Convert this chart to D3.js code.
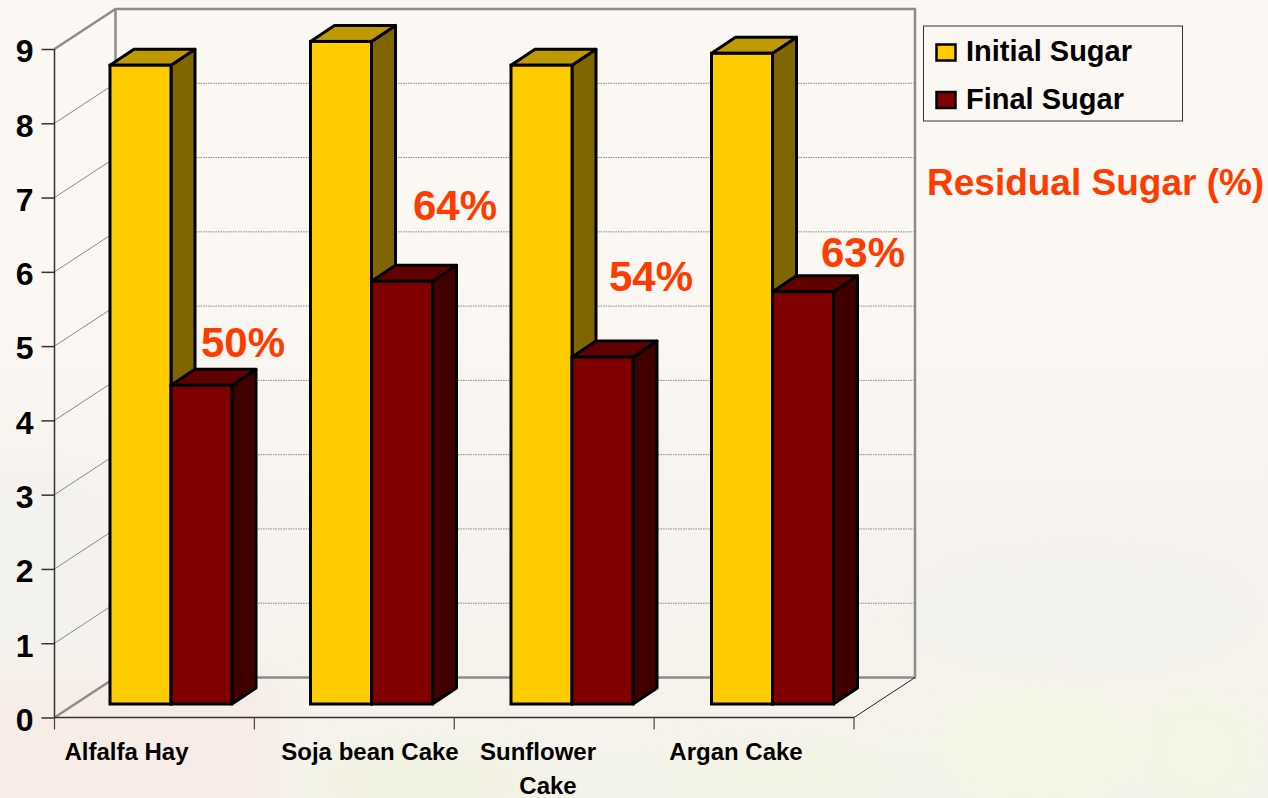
<!DOCTYPE html>
<html>
<head>
<meta charset="utf-8">
<script src="https://cdn.jsdelivr.net/npm/d3@7"></script>
<style>
html, body { margin: 0; padding: 0; background: #fbf8f4; }
svg { display: block; }
text { font-family: "Liberation Sans", Arial, sans-serif; font-weight: bold; }
</style>
</head>
<body>
<div id="chart"></div>
<script>
var categories = ["Alfalfa Hay", "Soja bean Cake", "Sunflower Cake", "Argan Cake"];
var initialSugar = [8.6, 8.92, 8.6, 8.76];
var finalSugar = [4.29, 5.69, 4.67, 5.55];
var residualLabels = ["50%", "64%", "54%", "63%"];
var yTicks = [0, 1, 2, 3, 4, 5, 6, 7, 8, 9];
var seriesNames = ["Initial Sugar", "Final Sugar"];

var W = 1268, H = 798;
var wallDx = 61, wallDy = -40;     // oblique offset of the back wall
var barDx = 24, barDy = -16;       // depth of each bar
var planeDx = 20, planeDy = -13.5; // bars stand a bit behind the axis

var x = d3.scaleBand().domain(categories).range([54.5, 856.5]);
var xTick = d3.scaleLinear().domain([0, 4]).range([54.5, 854]);
var y = d3.scaleLinear().domain([0, 9]).range([717.5, 49]);
var barW = 61;
var barX0 = 35.5; // gap from tick to first bar in a group

var svg = d3.select("#chart").append("svg").attr("width", W).attr("height", H);

// washed out photo behind the slide
var defs = svg.append("defs");
var fade = defs.append("linearGradient").attr("id", "fade").attr("x1", 0).attr("x2", 0).attr("y1", 0).attr("y2", 1);
fade.append("stop").attr("offset", 0.35).attr("stop-color", "#fbf8f4");
fade.append("stop").attr("offset", 0.7).attr("stop-color", "#f6f3ee");
fade.append("stop").attr("offset", 1).attr("stop-color", "#f4f3ea");
defs.append("filter").attr("id", "blur").attr("x", "-50%").attr("y", "-50%").attr("width", "200%").attr("height", "200%")
    .append("feGaussianBlur").attr("stdDeviation", 14);
svg.append("rect").attr("width", W).attr("height", H).attr("fill", "url(#fade)");

var blotches = svg.append("g").attr("filter", "url(#blur)");
blotches.append("rect").attr("x", -40).attr("y", 680).attr("width", 320).attr("height", 160).attr("fill", "#f7ece6");
blotches.append("rect").attr("x", -40).attr("y", 470).attr("width", 140).attr("height", 190).attr("fill", "#f4f2ee");
blotches.append("ellipse").attr("cx", 1040).attr("cy", 745).attr("rx", 95).attr("ry", 55).attr("fill", "#f5f6e3");
blotches.append("ellipse").attr("cx", 1200).attr("cy", 750).attr("rx", 55).attr("ry", 50).attr("fill", "#f3f6e2");
blotches.append("ellipse").attr("cx", 1080).attr("cy", 610).attr("rx", 170).attr("ry", 60).attr("fill", "#f3f1ec");
blotches.append("ellipse").attr("cx", 420).attr("cy", 780).attr("rx", 110).attr("ry", 30).attr("fill", "#f2f2e2");
blotches.append("ellipse").attr("cx", 780).attr("cy", 775).attr("rx", 110).attr("ry", 28).attr("fill", "#f3f4e4");

// walls: gridlines on back and side
var gridY = yTicks.filter(function (d) { return d > 0 && d < 9; });
svg.selectAll("line.back").data(gridY).enter().append("line")
    .attr("class", "back")
    .attr("x1", 54.5 + wallDx).attr("x2", 854 + wallDx)
    .attr("y1", function (d) { return y(d) + wallDy; })
    .attr("y2", function (d) { return y(d) + wallDy; })
    .attr("stroke", "#888").attr("stroke-width", 1).attr("stroke-dasharray", "1.5,1");
svg.selectAll("line.side").data(gridY).enter().append("line")
    .attr("class", "side")
    .attr("x1", 54.5).attr("x2", 54.5 + wallDx)
    .attr("y1", function (d) { return y(d); })
    .attr("y2", function (d) { return y(d) + wallDy; })
    .attr("stroke", "#888").attr("stroke-width", 1);

// heavy grey frame of the walls
var frame = d3.line();
var top9 = y(9), base0 = y(0);
svg.append("path")
    .attr("d", frame([[54.5, top9], [54.5 + wallDx, top9 + wallDy], [854 + wallDx, top9 + wallDy], [854 + wallDx, base0 + wallDy], [54.5 + wallDx, base0 + wallDy], [54.5, base0]]))
    .attr("fill", "none").attr("stroke", "#8c8c8c").attr("stroke-width", 2.5);
svg.append("line")
    .attr("x1", 54.5 + wallDx).attr("x2", 54.5 + wallDx)
    .attr("y1", top9 + wallDy).attr("y2", base0 + wallDy)
    .attr("stroke", "#8c8c8c").attr("stroke-width", 2.5);
svg.append("line")
    .attr("x1", 854).attr("x2", 854 + wallDx)
    .attr("y1", base0).attr("y2", base0 + wallDy)
    .attr("stroke", "#222").attr("stroke-width", 1);

// axes
var yAxis = d3.axisLeft(y).tickValues(yTicks).tickSize(13).tickPadding(8);
var gy = svg.append("g").attr("transform", "translate(54.5,0)").call(yAxis);
gy.select(".domain").attr("stroke", "#333").attr("stroke-width", 1.5).attr("d", "M0," + y(9) + "V" + y(0));
gy.selectAll(".tick line").attr("stroke", "#333").attr("stroke-width", 1.5);
gy.selectAll("text").attr("font-size", 32).attr("fill", "#000").attr("font-family", "Liberation Sans").attr("font-weight", "bold").attr("dy", "0.4em");

svg.append("line").attr("x1", 54.5).attr("x2", 854).attr("y1", y(0)).attr("y2", y(0)).attr("stroke", "#333").attr("stroke-width", 1.5);
svg.selectAll("line.xtick").data(d3.range(5)).enter().append("line")
    .attr("class", "xtick")
    .attr("x1", function (d) { return xTick(d); })
    .attr("x2", function (d) { return xTick(d); })
    .attr("y1", y(0)).attr("y2", y(0) + 12)
    .attr("stroke", "#444").attr("stroke-width", 1.2);

// bars, drawn as oblique boxes
function box(g, px, val, front, topCol, sideCol) {
    var left = px, right = px + barW;
    var bottom = y(0) + planeDy, topY = y(val) + planeDy;
    var pts = d3.line();
    g.append("path")
        .attr("d", pts([[right, topY], [right + barDx, topY + barDy], [right + barDx, bottom + barDy], [right, bottom]]) + "Z")
        .attr("fill", sideCol).attr("stroke", "#000").attr("stroke-width", 3).attr("stroke-linejoin", "round");
    g.append("path")
        .attr("d", pts([[left, topY], [left + barDx, topY + barDy], [right + barDx, topY + barDy], [right, topY]]) + "Z")
        .attr("fill", topCol).attr("stroke", "#000").attr("stroke-width", 3).attr("stroke-linejoin", "round");
    g.append("rect")
        .attr("x", left).attr("y", topY).attr("width", barW).attr("height", bottom - topY)
        .attr("fill", front).attr("stroke", "#000").attr("stroke-width", 3);
}

var bars = svg.append("g");
categories.forEach(function (c, i) {
    var g = bars.append("g");
    box(g, x(c) + planeDx + barX0, initialSugar[i], "#ffcc00", "#bf9900", "#806600");
    box(g, x(c) + planeDx + barX0 + barW, finalSugar[i], "#800000", "#600000", "#400000");
});

// category labels
var labelX = [126.5, 370, 538, 736];
var labels = svg.append("g");
categories.forEach(function (c, i) {
    var words = c === "Sunflower Cake" ? ["Sunflower", "Cake"] : [c];
    words.forEach(function (w, j) {
        labels.append("text").attr("x", labelX[i] + (j === 1 ? 10 : 0)).attr("y", 760 + j * 34)
            .attr("text-anchor", "middle").attr("font-size", 24).attr("fill", "#000").text(w);
    });
});

// residual percentages
var pctX = [243, 455, 651, 863];
var pctY = [357, 220, 291, 267];
residualLabels.forEach(function (t, i) {
    svg.append("text").attr("x", pctX[i]).attr("y", pctY[i]).attr("text-anchor", "middle")
        .attr("font-size", 42).attr("fill", "#ff3c00").text(t);
});
svg.append("text").attr("x", 927).attr("y", 195).attr("font-size", 37).attr("fill", "#ff3c00").text("Residual Sugar (%)");

// legend
var legend = svg.append("g");
legend.append("rect").attr("x", 923.5).attr("y", 26).attr("width", 259).attr("height", 95)
    .attr("fill", "none").attr("stroke", "#333").attr("stroke-width", 1);
var swatch = ["#ffcc00", "#800000"];
seriesNames.forEach(function (n, i) {
    legend.append("rect").attr("x", 936.5).attr("y", 44.5 + i * 47.5).attr("width", 19).attr("height", 16)
        .attr("fill", swatch[i]).attr("stroke", "#000").attr("stroke-width", 2.5);
    legend.append("text").attr("x", 966).attr("y", 61 + i * 48).attr("font-size", 29).attr("fill", "#000").text(n);
});
</script>
</body>
</html>
